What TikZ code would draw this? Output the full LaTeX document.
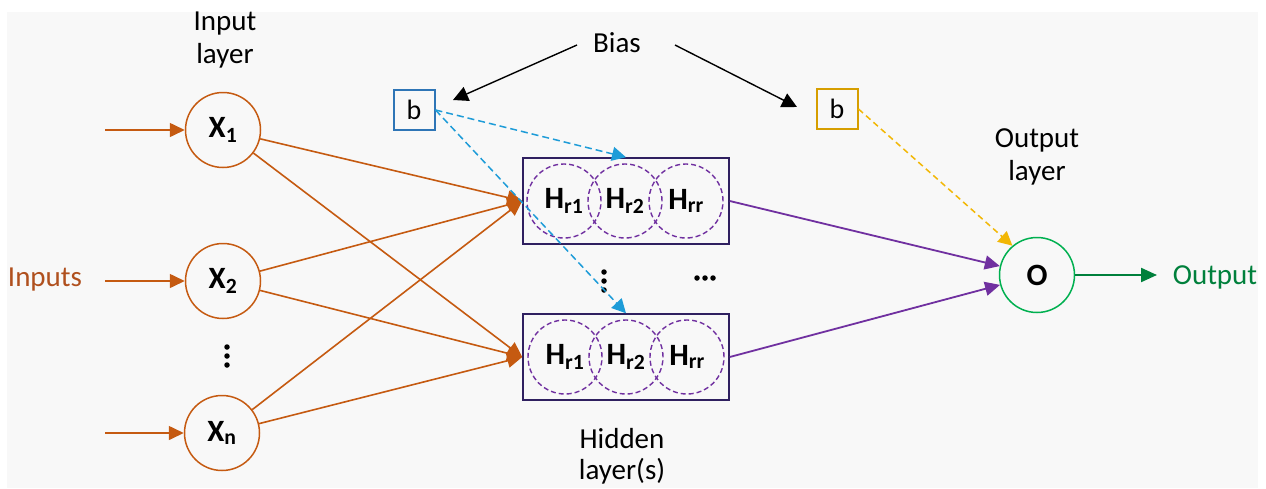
\documentclass[tikz,border=0pt]{standalone}
\usepackage{fontspec}
\setmainfont{Carlito}
\usetikzlibrary{arrows.meta,calc}
\definecolor{brn}{HTML}{C55A11}
\definecolor{brntxt}{HTML}{B0501E}
\definecolor{bbox}{HTML}{2E75B6}
\definecolor{bdash}{HTML}{1E9CD8}
\definecolor{gbox}{HTML}{D69E00}
\definecolor{gdash}{HTML}{F2B705}
\definecolor{purp}{HTML}{7030A0}
\definecolor{hbord}{HTML}{2F2060}
\definecolor{grn}{HTML}{00B050}
\definecolor{dgrn}{HTML}{00803C}
\definecolor{bg}{HTML}{F8F8F8}
\tikzset{
  lbl/.style={font=\fontsize{29}{33}\selectfont, align=center, inner sep=0pt},
  incirc/.style={circle, draw=brn, line width=1.5pt, minimum size=75pt, inner sep=0pt, font=\fontsize{31}{34}\selectfont\bfseries},
  outcirc/.style={circle, draw=grn, line width=1.5pt, minimum size=75pt, inner sep=0pt, font=\fontsize{31}{34}\selectfont\bfseries},
  hbox/.style={draw=hbord, line width=1.5pt, minimum width=206pt, minimum height=86pt, inner sep=0pt},
  hcirc/.style={circle, draw=purp, dashed, dash pattern=on 5pt off 3pt, line width=1.4pt, minimum size=74pt, inner sep=0pt, font=\fontsize{31}{34}\selectfont\bfseries},
  bnode/.style={draw, line width=2pt, minimum width=41pt, minimum height=40pt, inner sep=0pt, font=\fontsize{28}{32}\selectfont},
  brnarr/.style={draw=brn, line width=1.6pt, -{Triangle[length=15pt,width=14pt]}, fill=brn},
  purarr/.style={draw=purp, line width=1.8pt, -{Triangle[length=15pt,width=14pt]}},
  blkarr/.style={draw=black, line width=1.4pt, -{Triangle[length=15pt,width=15pt]}},
  bdarr/.style={draw=bdash, line width=1.5pt, dash pattern=on 7pt off 4pt, -{Triangle[length=14pt,width=14pt]}},
  gdarr/.style={draw=gdash, line width=1.5pt, dash pattern=on 6pt off 4pt, -{Triangle[length=14pt,width=14pt]}},
  dot/.style={circle, fill=black, minimum size=5.5pt, inner sep=0pt}
}
\begin{document}
\begin{tikzpicture}[x=1pt,y=-1pt]
\useasboundingbox (0,0) rectangle (1266,488);
\fill[bg] (7,12) rectangle (1258,488);

% labels
\node[lbl] (inlayer) at (225,40) {Input\\layer};
\node[lbl] (outlayer) at (1037,157) {Output\\layer};
\node[lbl, font=\fontsize{29}{31}\selectfont] (hidlayer) at (622,456) {Hidden\\layer(s)};
\node[lbl] (bias) at (617,43) {Bias};
\node[lbl, text=brntxt] (inputs) at (45,280) {Inputs};
\node[lbl, text=dgrn] (output) at (1215,277) {Output};

% input nodes
\node[incirc] (x1) at (223,130) {X\textsubscript{1}};
\node[incirc] (x2) at (223,281) {X\textsubscript{2}};
\node[incirc] (xn) at (222,433) {X\textsubscript{n}};
\coordinate (s1) at (105,130);
\coordinate (s2) at (105,281);
\coordinate (sn) at (105,433);
\draw[brnarr] (s1) -- (x1);
\draw[brnarr] (s2) -- (x2);
\draw[brnarr] (sn) -- (xn);
\foreach \yy in {347,356,365} \node[dot] at (227,\yy) {};

% hidden boxes
\node[hbox] (h1) at (626,201) {};
\node[hbox] (h2) at (626,357) {};
\node[hcirc] (h11) at (564,201) {H\textsubscript{r1}};
\node[hcirc] (h12) at (625,201) {H\textsubscript{r2}};
\node[hcirc] (h13) at (686,201) {H\textsubscript{rr}};
\node[hcirc] (h21) at (565,357) {H\textsubscript{r1}};
\node[hcirc] (h22) at (626,357) {H\textsubscript{r2}};
\node[hcirc] (h23) at (687,357) {H\textsubscript{rr}};
\foreach \yy in {272,281,290} \node[dot] at (604,\yy) {};
\foreach \xx in {697,705,713} \node[dot] at (\xx,278) {};

% input to hidden
\foreach \s in {x1,x2,xn}{
  \draw[brnarr] (\s) -- (h1.west);
  \draw[brnarr] (\s) -- (h2.west);
}

% output
\node[outcirc] (o) at (1037,275) {O};
\coordinate (oend) at (1157,275);
\draw[purarr] (h1.east) -- (o);
\draw[purarr] (h2.east) -- (o);
\draw[draw=dgrn, line width=2.2pt, -{Triangle[length=16pt,width=14pt]}] (o) -- (oend);

% bias boxes
\node[bnode, draw=bbox] (b1) at (414,110) {b};
\node[bnode, draw=gbox] (b2) at (837,109) {b};
\coordinate (bl) at (577,45);
\coordinate (br) at (675,45);
\coordinate (tl) at (453,100);
\coordinate (tr) at (797,107);
\draw[blkarr] (bl) -- (tl);
\draw[blkarr] (br) -- (tr);
\draw[bdarr] (b1.east) -- (h1.north);
\draw[bdarr] (b1.east) -- (h2.north);
\draw[gdarr] (b2.east) -- (o.130);
\end{tikzpicture}
\end{document}
